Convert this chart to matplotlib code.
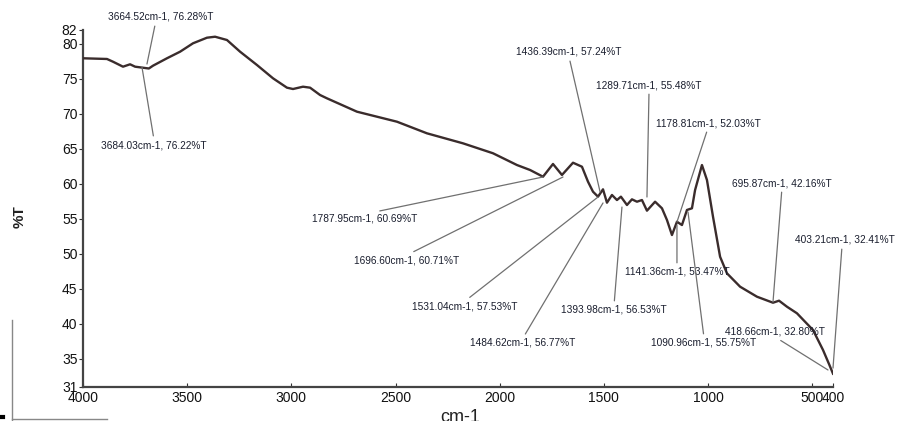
import matplotlib
matplotlib.use("Agg")
import matplotlib.pyplot as plt
from matplotlib.lines import Line2D

# FTIR spectrum, values
wavenumber = [4000, 3885, 3856, 3808, 3774, 3750, 3712, 3684, 3664, 3597, 3534,
              3472, 3405, 3366, 3309, 3246, 3165, 3088, 3021, 2992, 2944, 2910,
              2862, 2829, 2685, 2493, 2349, 2176, 2032, 1917, 1854, 1792, 1744,
              1701, 1648, 1605, 1576, 1552, 1528, 1504, 1485, 1461, 1437, 1418,
              1389, 1365, 1341, 1317, 1293, 1254, 1221, 1197, 1173, 1149, 1125,
              1101, 1077, 1062, 1029, 1005, 976, 942, 909, 846, 765, 688, 659,
              621, 573, 496, 448, 418, 400]
transmittance = [77.96, 77.86, 77.47, 76.76, 77.10, 76.76, 76.61, 76.5, 76.9, 77.96,
                 78.9, 80.1, 80.9, 81.04, 80.57, 78.9, 77.0, 75.1, 73.76, 73.57,
                 73.9, 73.76, 72.71, 72.24, 70.33, 68.9, 67.24, 65.81, 64.39, 62.71,
                 62.0, 61.04, 62.86, 61.29, 63.04, 62.47, 60.33, 58.9, 58.19, 59.24,
                 57.33, 58.43, 57.71, 58.19, 57.0, 57.81, 57.47, 57.71, 56.19, 57.47,
                 56.53, 54.86, 52.71, 54.61, 54.14, 56.29, 56.53, 59.14, 62.71, 60.57,
                 55.33, 49.61, 47.24, 45.33, 43.9, 43.04, 43.33, 42.47, 41.53, 39.14,
                 36.29, 34.2, 32.9]

# peak labels: text, point on curve, text position, where the leader leaves the text
peak_labels = ["3664.52cm-1, 76.28%T", "3684.03cm-1, 76.22%T", "1436.39cm-1, 57.24%T",
               "1289.71cm-1, 55.48%T", "1178.81cm-1, 52.03%T", "1787.95cm-1, 60.69%T",
               "1696.60cm-1, 60.71%T", "1531.04cm-1, 57.53%T", "1484.62cm-1, 56.77%T",
               "1393.98cm-1, 56.53%T", "1141.36cm-1, 53.47%T", "1090.96cm-1, 55.75%T",
               "695.87cm-1, 42.16%T", "403.21cm-1, 32.41%T", "418.66cm-1, 32.80%T"]
peak_x = [3693, 3717, 1518, 1293, 1149, 1792, 1696, 1528, 1504, 1413, 1149, 1096, 688, 400, 424]
peak_y = [77.14, 76.71, 58.86, 58.14, 54.57, 61.0, 61.0, 58.14, 57.29, 56.71, 54.14, 56.0, 43.14, 33.7, 33.43]
text_x = [3626, 3659, 1667, 1283, 1000, 2646, 2445, 2166, 1888, 1451, 1149, 1019, 645, 342, 678]
text_y = [83.86, 65.57, 78.86, 74.14, 68.71, 55.0, 49.14, 42.57, 37.29, 42.0, 47.43, 37.29, 60.14, 52.0, 38.86]
leader_from = [(0.45, 0), (0.5, 1), (0.5, 0), (0.5, 0), (0.5, 0), (0.5, 1), (0.5, 1), (0.5, 1),
               (0.5, 1), (0.5, 1), (0.5, 1), (0.5, 1), (0.5, 0), (0.47, 0), (0.5, 0)]

x_ticks = [4000, 3500, 3000, 2500, 2000, 1500, 1000, 500, 400]
y_ticks = [31, 35, 40, 45, 50, 55, 60, 65, 70, 75, 80, 82]

plt.rcParams['font.family'] = ['Liberation Sans', 'DejaVu Sans']

fig = plt.figure(figsize=(9.03, 4.21), dpi=100)
ax = fig.add_axes([83 / 903, 1 - 387 / 421, 750 / 903, 357 / 421])

ax.plot(wavenumber, transmittance, color='#3a2c2c', linewidth=1.7, zorder=3)

for i, label in enumerate(peak_labels):
    ax.annotate(label, xy=(peak_x[i], peak_y[i]), xytext=(text_x[i], text_y[i]),
                ha='center', va='center', fontsize=7.3, color='#1a1e2e',
                annotation_clip=False,
                arrowprops=dict(arrowstyle='-', color='#707070', linewidth=0.9,
                                relpos=leader_from[i], shrinkA=1, shrinkB=0))

ax.set_xlim(4000, 400)
ax.set_ylim(31, 82)
ax.set_xticks(x_ticks)
ax.set_yticks(y_ticks)
ax.tick_params(axis='x', direction='in', length=3, labelsize=10, pad=3, colors='#333333')
ax.tick_params(axis='y', direction='out', length=3, labelsize=10, pad=1, colors='#333333')
for lab in ax.get_xticklabels() + ax.get_yticklabels():
    lab.set_color('#111111')

for side in ['top', 'right']:
    ax.spines[side].set_visible(False)
for side in ['left', 'bottom']:
    ax.spines[side].set_color('#444444')
    ax.spines[side].set_linewidth(1.6)

fig.text(20 / 903, 1 - 217 / 421, '%T', rotation=90, ha='center', va='center',
         fontsize=11, fontweight='bold', color='#222222')
# axis title sits partly below the bottom edge, as in the scan
fig.text(460 / 903, 1 - 409 / 421, 'cm-1', ha='center', va='top',
         fontsize=13, color='#222222')

# scan edge marks in the lower left corner
fig.add_artist(Line2D([12 / 903, 12 / 903], [0.0, 1 - 320 / 421], color='#888888', linewidth=1))
fig.add_artist(Line2D([12 / 903, 107 / 903], [2 / 421, 2 / 421], color='#888888', linewidth=1))
fig.add_artist(Line2D([0, 3 / 903], [4 / 421, 4 / 421], color='#000000', linewidth=3))

fig.savefig("out.png", dpi=100)
